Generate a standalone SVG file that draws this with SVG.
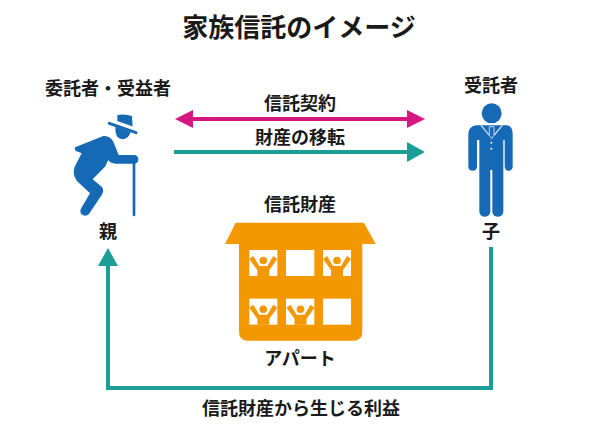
<svg xmlns="http://www.w3.org/2000/svg" width="600" height="436" viewBox="0 0 600 436">
<style>
text{font-family:"Noto Sans CJK JP","Noto Sans",sans-serif;font-weight:700;fill:#1a1a1a;text-anchor:middle;font-size:18px}
.t{font-size:26px}
.pink{stroke:#d6177f;stroke-width:4;fill:none}
.teal{stroke:#1a9e96;stroke-width:4;fill:none}
.blue{fill:#1669b5}
.org{fill:#f39800}
.win{fill:#fff}
</style>
<defs>
<marker id="ap" markerUnits="userSpaceOnUse" markerWidth="20" markerHeight="20" refX="14" refY="10" orient="auto-start-reverse"><path d="M0 1L18 10L0 19Z" fill="#d6177f"/></marker>
<marker id="at" markerUnits="userSpaceOnUse" markerWidth="20" markerHeight="22" refX="14" refY="11" orient="auto"><path d="M0 1L18 11L0 21Z" fill="#1a9e96"/></marker>
<g id="p"><circle cx="0" cy="-2.500" r="3.800" class="org"/><path class="org" d="M-14 -4L-10 -7L-4 3H4L10 -7L14 -4L6 7V13H-6V7Z"/></g>
</defs>
<rect width="600" height="436" fill="#fff"/>
<text class="t" x="299" y="37">家族信託のイメージ</text>
<g id="connectors">
<path class="pink" d="M179 119H421" marker-start="url(#ap)" marker-end="url(#ap)"/>
<path class="teal" d="M174 152H421" marker-end="url(#at)"/>
<path class="teal" d="M491 247V388H108V252" marker-end="url(#at)"/>
</g>
<g id="label-contract"><text x="300" y="110">信託契約</text></g>
<g id="label-transfer"><text x="300" y="144">財産の移転</text></g>
<g id="label-benefit"><text x="301" y="415">信託財産から生じる利益</text></g>
<g id="settlor">
<text x="108" y="95">委託者・受益者</text>
<g transform="translate(40 70) scale(.3333)">
<path class="blue" d="M105 232L190 198Q212 198 220 215L236 255H285Q295 258 295 268Q295 279 285 281H228Q210 280 205 270L195 290L158 328L185 350Q193 358 187 372L147 432Q135 443 124 432Q118 424 124 414L150 370L110 332Q96 310 104 290L125 250L108 243Q102 238 105 232Z"/>
<path d="M282 280V435" stroke="#1669b5" stroke-width="8" stroke-linecap="round" fill="none"/>
<path class="blue" d="M232 136Q250 130 276 138L278 172L232 155ZM226 170L272 186Q266 208 246 208Q224 204 226 170Z"/>
<path d="M208 160L288 188" stroke="#1669b5" stroke-width="9" stroke-linecap="round" fill="none"/>
<path d="M222 152L280 172" stroke="#fff" stroke-width="4" fill="none"/>
</g>
<text x="108" y="238">親</text>
</g>
<g id="trustee">
<text x="491" y="92">受託者</text>
<g transform="translate(450 70) scale(.3333)">
<circle class="blue" cx="125" cy="130" r="30"/>
<path class="blue" d="M78 166H172Q188 170 188 190V290Q187 302 175 302Q166 302 164 290V210H160V425Q158 440 142 440Q128 438 127 425V300H121V425Q120 438 105 440Q90 440 88 425V210H81V290Q80 302 68 302Q56 302 55 290V190Q56 170 78 166Z"/>
<path d="M93 166L118 196M157 166L132 196" stroke="#fff" stroke-width="4" fill="none" opacity=".8"/>
<path d="M118 170H132V196L125 206L118 196Z" fill="#1669b5" stroke="#bcd8ee" stroke-width="3"/>
<circle cx="124" cy="218" r="3" fill="#fff"/><circle cx="124" cy="236" r="3" fill="#fff"/>
</g>
<text x="491" y="238">子</text>
</g>
<g id="property">
<text x="300" y="211">信託財産</text>
<g transform="translate(215 190) scale(.3333)">
<path class="org" d="M62 98H447L482 162H442V425Q442 452 415 452H100Q72 452 72 425V162H30Z"/>
<rect class="win" x="103" y="180" width="84" height="78"/>
<rect class="win" x="213" y="180" width="85" height="78"/>
<rect class="win" x="324" y="180" width="84" height="78"/>
<rect class="win" x="103" y="326" width="84" height="78"/>
<rect class="win" x="213" y="326" width="85" height="78"/>
<rect class="win" x="324" y="326" width="84" height="78"/>
</g>
<use href="#p" x="263.300" y="263"/><use href="#p" x="337" y="263"/><use href="#p" x="263.300" y="311.700"/><use href="#p" x="300.500" y="311.700"/>
<text x="300" y="365">アパート</text>
</g>
</svg>
